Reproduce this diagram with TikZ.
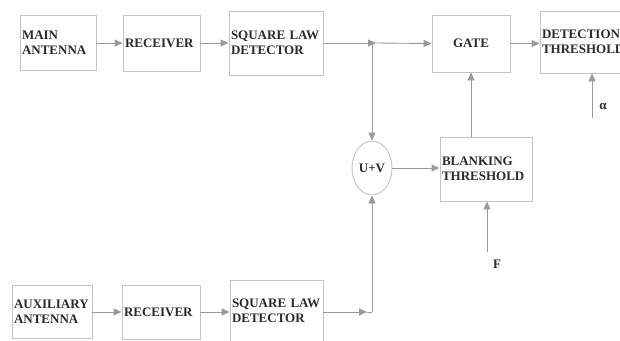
\documentclass[tikz,border=0pt]{standalone}
\usepackage{fontspec}
\setmainfont{Liberation Serif}
\usetikzlibrary{arrows.meta,shapes.geometric,calc}
\definecolor{linec}{HTML}{9A9A9A}
\definecolor{boxc}{HTML}{C4C4C4}
\definecolor{txtc}{HTML}{2A2A2A}
\begin{document}
\begin{tikzpicture}[x=1pt,y=-1pt,
  box/.style={draw=boxc, line width=0.9pt, rectangle, inner xsep=2pt, inner ysep=0pt,
    align=left, text=txtc, font=\fontsize{13}{15}\selectfont\bfseries},
  arr/.style={draw=linec, line width=0.9pt, -{Triangle[length=8pt,width=7pt]}},
  ln/.style={draw=linec, line width=0.9pt},
  lbl/.style={text=txtc, font=\fontsize{13}{15}\selectfont\bfseries, inner sep=0pt}]
\useasboundingbox (0,0) rectangle (620,340);
\clip (0,0) rectangle (620,340);
% top row
\node[box, text width=72pt, minimum height=55pt] (ma) at (58,42.5) {MAIN\\ANTENNA};
\node[box, text width=73pt, minimum height=56pt] (r1) at (161.5,43) {RECEIVER};
\node[box, text width=90pt, minimum height=64pt] (s1) at (276,43) {SQUARE LAW\\DETECTOR};
\node[box, text width=74pt, minimum height=57pt, align=center] (gate) at (471,43.5) {GATE};
\node[box, text width=86pt, minimum height=62pt] (dt) at (585,42) {DETECTION\\THRESHOLD};
% middle
\node[draw=boxc, line width=0.9pt, ellipse, minimum width=40pt, minimum height=54pt, inner sep=0pt,
  text=txtc, font=\fontsize{13}{15}\selectfont\bfseries] (uv) at (372,168) {U+V};
\node[box, text width=88pt, minimum height=64pt] (bt) at (486,169) {BLANKING\\THRESHOLD};
% bottom row
\node[box, text width=76pt, minimum height=53pt] (aa) at (52,311.5) {AUXILIARY\\ANTENNA};
\node[box, text width=74pt, minimum height=54pt] (r2) at (161,312) {RECEIVER};
\node[box, text width=89pt, minimum height=62pt] (s2) at (276.5,311) {SQUARE LAW\\DETECTOR};
% junctions and free ends
\coordinate (j1) at (376,43);
\coordinate (j1v) at (372,43);
\coordinate (j2) at (372,312);
\coordinate (j2a) at (367,312);
\coordinate (fF) at (487,252);
\coordinate (fa) at (592,118);
\node[lbl] (Flab) at (497,264) {F};
\node[lbl] (alab) at (603,106) {α};
% connectors
\draw[arr] (ma.east |- r1.west) -- (r1.west);
\draw[arr] (r1.east) -- (s1.west);
\draw[arr] (s1.east) -- (j1);
\draw[arr] (j1) -- (gate.west);
\draw[arr] (gate.east) -- (dt.west |- gate.east);
\draw[arr] (j1v) -- (uv.north);
\draw[arr] (uv.east) -- (bt.west |- uv.east);
\draw[arr] (bt.north -| gate.south) -- (gate.south);
\draw[arr] (fF) -- (fF |- bt.south);
\draw[arr] (fa) -- (fa |- dt.south);
\draw[arr] (aa.east |- r2.west) -- (r2.west);
\draw[arr] (r2.east) -- (s2.west |- r2.east);
\draw[arr] (s2.east |- j2) -- (j2a);
\draw[ln] (j2a) -- (j2);
\draw[arr] (j2) -- (uv.south);
\end{tikzpicture}
\end{document}
